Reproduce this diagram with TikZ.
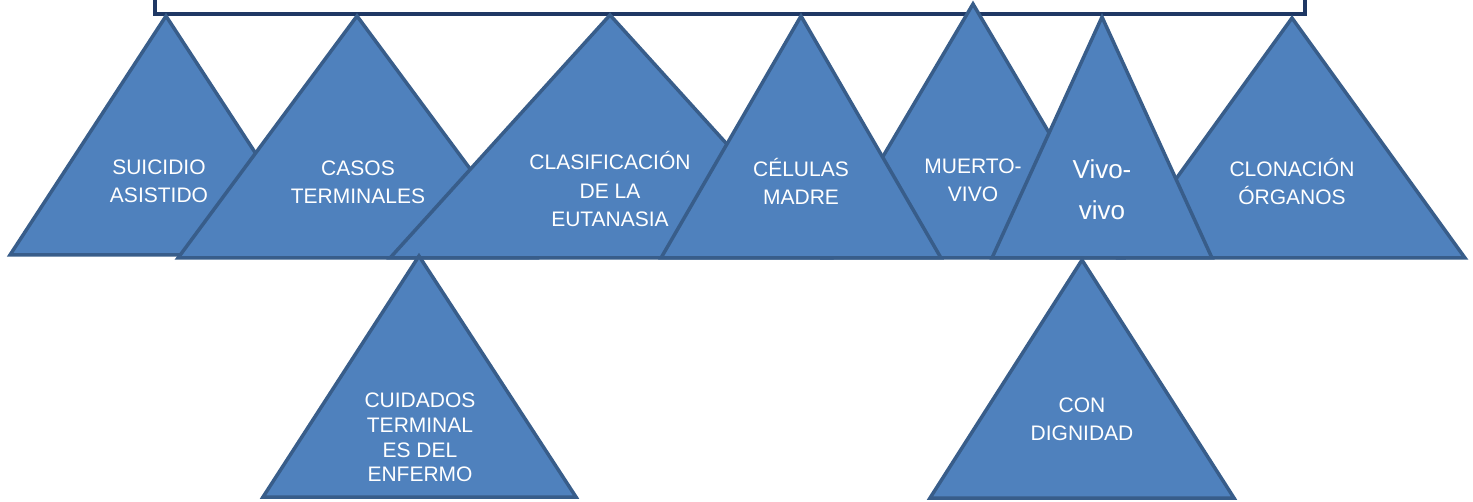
\documentclass[tikz,border=0pt]{standalone}
\usepackage{fontspec}
\setmainfont{Liberation Sans}
\definecolor{trifill}{HTML}{4F81BD}
\definecolor{tridraw}{HTML}{385D8A}
\definecolor{boxdraw}{HTML}{1F3864}
\begin{document}
\begin{tikzpicture}[x=1pt,y=-1pt,
  tri/.style={fill=trifill,draw=tridraw,line width=3.5pt},
  lbl/.style={text=white,font=\fontsize{21}{28.5}\selectfont,align=center,inner sep=0pt,anchor=base},
  biglbl/.style={lbl,font=\fontsize{26}{41}\selectfont}]
\useasboundingbox (0,0) rectangle (1473,502);
\clip (0,0) rectangle (1473,502);
\draw[draw=boxdraw,line width=4.5pt,fill=white] (155,-60) rectangle (1305,14);
% top row
\draw[tri] (166,16) -- (322,255) -- (10,255) -- cycle;
\draw[tri] (357,16) -- (536,258) -- (178,258) -- cycle;
\draw[tri] (610,15) -- (830,258) -- (390,258) -- cycle;
\draw[tri] (973,4) -- (1123,258) -- (823,258) -- cycle;
\draw[tri] (1292,18) -- (1465,258) -- (1119,258) -- cycle;
\draw[tri] (801,16) -- (941,258) -- (661,258) -- cycle;
\draw[tri] (1102,17) -- (1212,258) -- (992,258) -- cycle;
% bottom row
\draw[tri] (419,256) -- (576,497) -- (263,497) -- cycle;
\draw[tri] (1082,260) -- (1234,498) -- (930,498) -- cycle;
% labels (anchor = baseline of last line)
\node[lbl] (t1) at (159,203) {SUICIDIO\\ASISTIDO};
\node[lbl] (t2) at (358,204) {CASOS\\TERMINALES};
\node[lbl] (t3) at (610,227) {CLASIFICACIÓN\\DE LA\\EUTANASIA};
\node[lbl] (t4) at (801,205) {CÉLULAS\\MADRE};
\node[lbl] (t5) at (973,202) {MUERTO-\\VIVO};
\node[biglbl] (t6) at (1102,220) {Vivo-\\vivo};
\node[lbl] (t7) at (1292,205) {CLONACIÓN\\ÓRGANOS};
\node[lbl,font=\fontsize{21}{24.7}\selectfont] (t8) at (420,482) {CUIDADOS\\TERMINAL\\ES DEL\\ENFERMO};
\node[lbl] (t9) at (1082,441) {CON\\DIGNIDAD};
\end{tikzpicture}
\end{document}
